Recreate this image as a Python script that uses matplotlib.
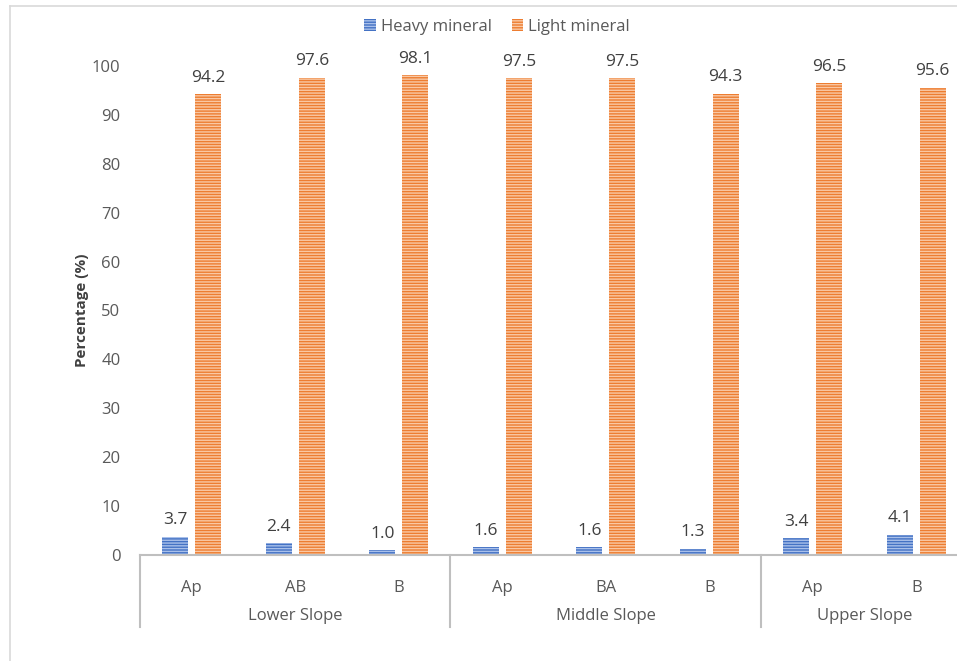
import numpy as np
import matplotlib
matplotlib.use('Agg')
import matplotlib.pyplot as plt
from matplotlib.lines import Line2D
from matplotlib.patches import Patch
import matplotlib.transforms as mtransforms

# data
horizons = ['Ap', 'AB', 'B', 'Ap', 'BA', 'B', 'Ap', 'B']
slopes = ['Lower Slope', 'Middle Slope', 'Upper Slope']
slope_sizes = [3, 3, 2]
heavy = [3.7, 2.4, 1.0, 1.6, 1.6, 1.3, 3.4, 4.1]
light = [94.2, 97.6, 98.1, 97.5, 97.5, 94.3, 96.5, 95.6]

plt.rcParams['font.family'] = ['Open Sans', 'DejaVu Sans']
plt.rcParams['hatch.linewidth'] = 1.0

blue = '#4472C4'
orange = '#ED7D31'
grey_txt = '#595959'
axis_col = '#BFBFBF'

W, H = 957, 661
fig = plt.figure(figsize=(W / 100, H / 100), dpi=100)
ax = fig.add_axes([140 / W, 1 - 555 / H, 828 / W, 489 / H])

x = np.arange(len(horizons))
bw = 0.25
off = 0.16
b1 = ax.bar(x - off, heavy, bw, color=blue, edgecolor='#A9C0EA', linewidth=0, hatch='------')
b2 = ax.bar(x + off, light, bw, color=orange, edgecolor='#F9C8A4', linewidth=0, hatch='------')

for bars, vals in ((b1, heavy), (b2, light)):
    for r, v in zip(bars, vals):
        ax.annotate(f'{v:.1f}', (r.get_x() + r.get_width() / 2, v), xytext=(0, 9),
                    textcoords='offset points', ha='center', va='baseline',
                    fontsize=12.5, color='#404040')

ax.set_xlim(-0.5, len(horizons) - 0.5)
ax.set_ylim(0, 100)
ax.set_yticks(np.arange(0, 101, 10))
ax.tick_params(axis='y', length=0, pad=14, labelsize=12, labelcolor=grey_txt)
ax.set_xticks([])
for s in ['top', 'right', 'left']:
    ax.spines[s].set_visible(False)
ax.spines['bottom'].set_color(axis_col)
ax.spines['bottom'].set_linewidth(1.5)

ax.set_ylabel('Percentage (%)', fontsize=11, fontweight='bold', color='#404040', labelpad=2)

# multi-level category axis
trans = mtransforms.blended_transform_factory(ax.transData, ax.transAxes)
for i, h in enumerate(horizons):
    ax.text(i, -0.068, h, transform=trans, ha='center', va='center', fontsize=12, color=grey_txt)
start = 0
seps = [-0.5]
for name, n in zip(slopes, slope_sizes):
    ax.text(start + (n - 1) / 2, -0.124, name, transform=trans, ha='center', va='center',
            fontsize=12, color=grey_txt)
    start += n
    seps.append(start - 0.5)
for s in seps:
    ax.plot([s, s], [0, -0.147], transform=trans, color=axis_col, lw=1.5, clip_on=False)

# legend
handles = [Patch(facecolor=blue, edgecolor='#A9C0EA', hatch='------', linewidth=0),
           Patch(facecolor=orange, edgecolor='#F9C8A4', hatch='------', linewidth=0)]
fig.legend(handles, ['Heavy mineral', 'Light mineral'], loc='center', bbox_to_anchor=(497 / W, 1 - 27 / H),
           ncol=2, frameon=False, fontsize=12, labelcolor=grey_txt, handlelength=0.7, handleheight=0.7,
           handletextpad=0.3, columnspacing=1.2)

# outer chart frame
fig.add_artist(Line2D([9.5 / W, 9.5 / W], [0, 1 - 6 / H], color='#D9D9D9', lw=1.2))
fig.add_artist(Line2D([9.5 / W, 1], [1 - 6 / H, 1 - 6 / H], color='#D9D9D9', lw=1.2))

fig.savefig('out.png', dpi=100)
